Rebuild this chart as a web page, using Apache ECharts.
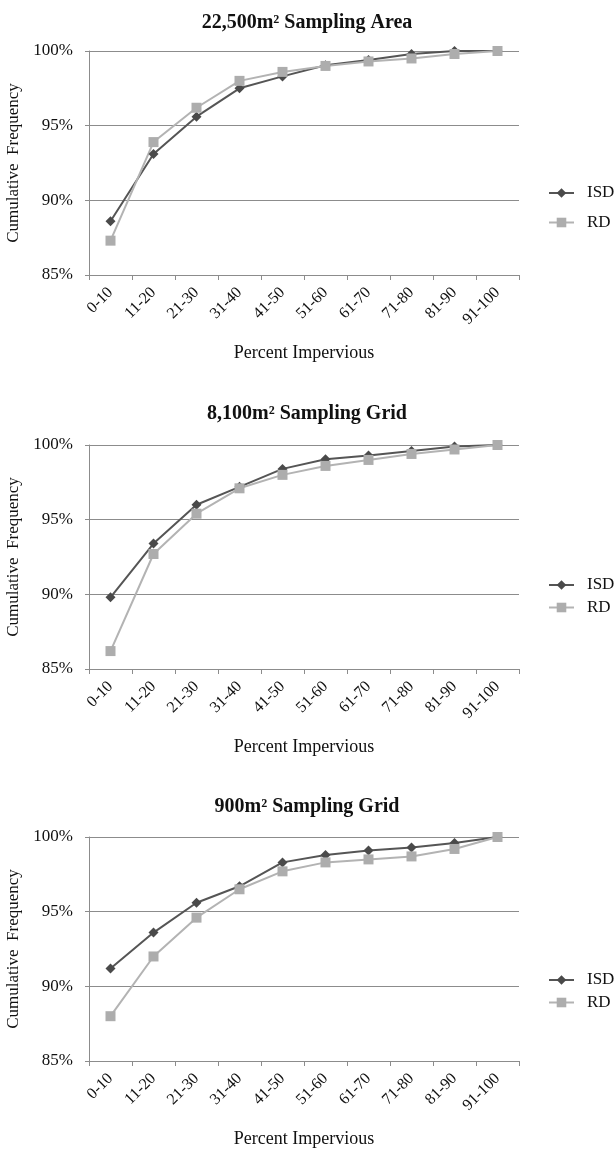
<!DOCTYPE html>
<html>
<head>
<meta charset="utf-8">
<title>Cumulative Frequency by Percent Impervious</title>
<script src="https://cdn.jsdelivr.net/npm/echarts@6/dist/echarts.min.js"></script>
<style>
  html, body { margin: 0; padding: 0; background: #fff; }
  #chart { width: 616px; height: 1150px; }
</style>
</head>
<body>
<div id="chart"></div>
<script>
// categories on the x axis
const categories = ['0-10', '11-20', '21-30', '31-40', '41-50', '51-60', '61-70', '71-80', '81-90', '91-100'];

// cumulative frequency (%)
const isd22500 = [88.6, 93.1, 95.6, 97.5, 98.3, 99.05, 99.4, 99.8, 100.0, 100];
const rd22500  = [87.3, 93.9, 96.2, 98.0, 98.6, 99.0, 99.3, 99.5, 99.8, 100];
const isd8100  = [89.8, 93.4, 96.0, 97.2, 98.4, 99.05, 99.3, 99.6, 99.9, 100];
const rd8100   = [86.2, 92.7, 95.4, 97.1, 98.0, 98.6, 99.0, 99.4, 99.7, 100];
const isd900   = [91.2, 93.6, 95.6, 96.7, 98.3, 98.8, 99.1, 99.3, 99.6, 100];
const rd900    = [88.0, 92.0, 94.6, 96.5, 97.7, 98.3, 98.5, 98.7, 99.2, 100];

const titles = ['22,500m² Sampling Area', '8,100m² Sampling Grid', '900m² Sampling Grid'];
const yTicks = [85, 90, 95, 100];

const font = '"Liberation Serif", "Times New Roman", serif';
const isdColor = '#555555';
const rdColor = '#b3b3b3';
const gridColor = '#8c8c8c';

// panel layout: plot top, legend top, legend gap, title top
const panels = [
    { top: 51,  legendTop: 184, legendGap: 11.5, titleTop: 13,  isd: isd22500, rd: rd22500 },
    { top: 445, legendTop: 576, legendGap: 4.5,  titleTop: 404, isd: isd8100,  rd: rd8100 },
    { top: 837, legendTop: 971, legendGap: 4.5,  titleTop: 797, isd: isd900,   rd: rd900 }
];

const option = {
    backgroundColor: '#fff',
    animation: false,
    title: [],
    legend: [],
    grid: [],
    xAxis: [],
    yAxis: [],
    series: []
};

panels.forEach((p, i) => {
    option.title.push({
        text: titles[i],
        left: 307,
        textAlign: 'center',
        top: p.titleTop,
        padding: 0,
        textStyle: { fontFamily: font, fontWeight: 'bold', fontSize: 20, color: '#111' }
    });

    option.legend.push({
        data: ['ISD', 'RD'],
        orient: 'vertical',
        left: 548,
        top: p.legendTop,
        padding: 0,
        itemWidth: 25,
        itemHeight: 12,
        itemGap: p.legendGap,
        selectedMode: false,
        textStyle: { fontFamily: font, fontSize: 17, color: '#111', lineHeight: 18, padding: [0, 0, 0, 8] }
    });

    option.grid.push({
        left: 89, width: 430, top: p.top, height: 224,
        containLabel: false,
        outerBoundsMode: 'none'
    });

    option.xAxis.push({
        type: 'category',
        gridIndex: i,
        data: categories,
        boundaryGap: true,
        name: 'Percent Impervious',
        nameLocation: 'middle',
        nameGap: 69,
        nameTextStyle: { fontFamily: font, fontSize: 18, color: '#111' },
        axisLine: { lineStyle: { color: gridColor, width: 1 } },
        axisTick: { show: true, length: 5, lineStyle: { color: gridColor } },
        axisLabel: { rotate: 45, margin: 15, interval: 0, fontFamily: font, fontSize: 16, color: '#111' }
    });

    option.yAxis.push({
        type: 'value',
        gridIndex: i,
        min: yTicks[0],
        max: yTicks[yTicks.length - 1],
        interval: 5,
        name: 'Cumulative  Frequency',
        nameLocation: 'middle',
        nameGap: 59,
        nameTextStyle: { fontFamily: font, fontSize: 17, color: '#111' },
        axisLine: { show: true, lineStyle: { color: gridColor, width: 1 } },
        axisTick: { show: true, length: 4, lineStyle: { color: gridColor } },
        axisLabel: { formatter: '{value}%', margin: 16, fontFamily: font, fontSize: 17, color: '#111' },
        splitLine: { show: true, lineStyle: { color: gridColor, width: 1.2 } }
    });

    option.series.push({
        name: 'ISD',
        type: 'line',
        xAxisIndex: i,
        yAxisIndex: i,
        data: p.isd,
        symbol: 'diamond',
        symbolSize: 10,
        lineStyle: { color: isdColor, width: 2 },
        itemStyle: { color: '#4a4a4a' }
    });

    option.series.push({
        name: 'RD',
        type: 'line',
        xAxisIndex: i,
        yAxisIndex: i,
        data: p.rd,
        symbol: 'rect',
        symbolSize: 10,
        lineStyle: { color: rdColor, width: 2 },
        itemStyle: { color: '#adadad' }
    });
});

const chart = echarts.init(document.getElementById('chart'), null, { renderer: 'canvas' });
chart.setOption(option);
</script>
</body>
</html>
